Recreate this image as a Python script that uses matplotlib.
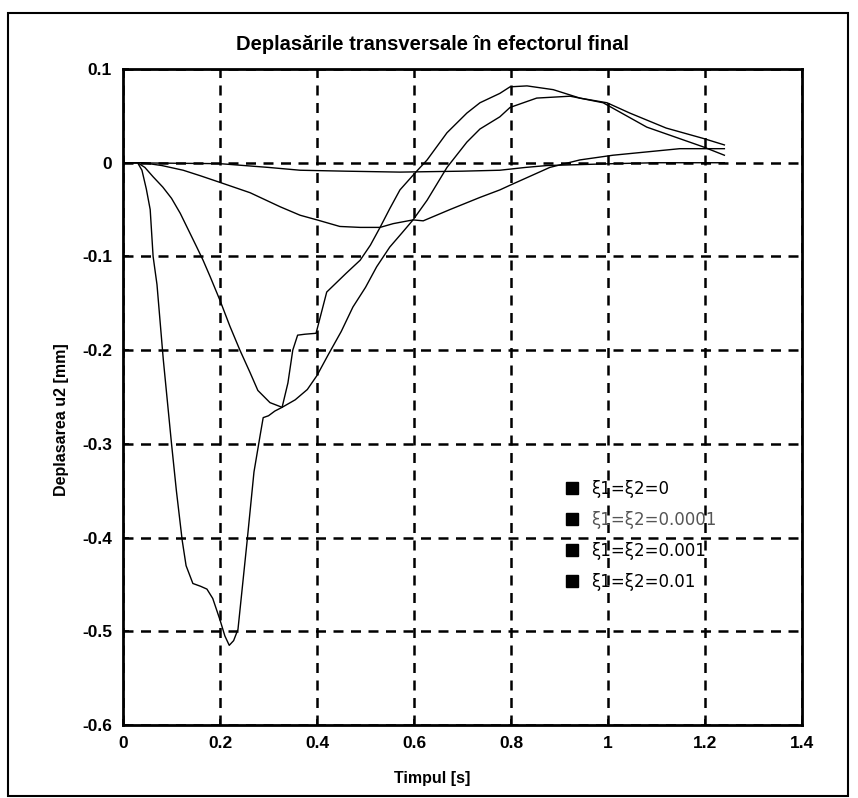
import numpy as np
import matplotlib
matplotlib.use('Agg')
import matplotlib.pyplot as plt
from matplotlib.lines import Line2D
from matplotlib.patches import Rectangle

plt.rcParams['font.family'] = ['Liberation Sans', 'DejaVu Sans']

# Data: time [s] and displacement [mm]
t_a = [0, 0.03, 0.039, 0.048, 0.056, 0.062, 0.07, 0.083, 0.1, 0.11, 0.122, 0.13,
       0.144, 0.16, 0.173, 0.185, 0.2, 0.21, 0.219, 0.228, 0.237, 0.256, 0.27,
       0.283, 0.289, 0.3, 0.313, 0.328, 0.34, 0.35, 0.36, 0.375, 0.398, 0.41,
       0.42, 0.44, 0.46, 0.489, 0.51, 0.53, 0.55, 0.571, 0.602, 0.627, 0.668,
       0.709, 0.736, 0.777, 0.798, 0.833, 0.887, 0.942, 0.998, 1.045, 1.12,
       1.196, 1.24]
u_a = [0, 0, -0.008, -0.028, -0.05, -0.1, -0.13, -0.21, -0.3, -0.35, -0.403,
       -0.43, -0.449, -0.452, -0.455, -0.465, -0.488, -0.505, -0.515, -0.51,
       -0.498, -0.403, -0.33, -0.29, -0.272, -0.27, -0.265, -0.261, -0.235,
       -0.2, -0.184, -0.183, -0.182, -0.158, -0.138, -0.128, -0.118, -0.104,
       -0.088, -0.069, -0.049, -0.029, -0.011, 0.003, 0.032, 0.053, 0.064,
       0.074, 0.081, 0.082, 0.078, 0.069, 0.064, 0.053, 0.037, 0.026, 0.019]

t_b = [0, 0.03, 0.045, 0.062, 0.082, 0.1, 0.118, 0.135, 0.152, 0.165, 0.18,
       0.2, 0.22, 0.241, 0.262, 0.278, 0.303, 0.328, 0.355, 0.38, 0.4, 0.423,
       0.45, 0.474, 0.5, 0.523, 0.55, 0.575, 0.598, 0.627, 0.668, 0.709, 0.736,
       0.777, 0.798, 0.853, 0.922, 0.99, 1.08, 1.196, 1.24]
u_b = [0, 0, -0.005, -0.015, -0.026, -0.038, -0.054, -0.072, -0.09, -0.104,
       -0.122, -0.147, -0.174, -0.2, -0.224, -0.243, -0.256, -0.261, -0.253,
       -0.242, -0.227, -0.205, -0.18, -0.154, -0.133, -0.111, -0.09, -0.075,
       -0.061, -0.04, -0.005, 0.022, 0.036, 0.049, 0.059, 0.069, 0.071, 0.064,
       0.038, 0.017, 0.008]

t_c = [0, 0.04, 0.08, 0.124, 0.16, 0.2, 0.262, 0.324, 0.365, 0.4, 0.447,
       0.489, 0.53, 0.557, 0.598, 0.619, 0.674, 0.736, 0.777, 0.798, 0.88,
       0.942, 1.01, 1.148, 1.24]
u_c = [0, 0, -0.003, -0.008, -0.014, -0.021, -0.032, -0.047, -0.056, -0.061,
       -0.068, -0.069, -0.069, -0.065, -0.061, -0.062, -0.05, -0.037, -0.029,
       -0.024, -0.005, 0.003, 0.008, 0.015, 0.015]

t_d = [0, 0.2, 0.3, 0.365, 0.458, 0.571, 0.7, 0.777, 0.83, 0.874, 0.942,
       1.01, 1.1, 1.24]
u_d = [0, -0.001, -0.005, -0.008, -0.009, -0.01, -0.009, -0.008, -0.005,
       -0.003, -0.002, -0.001, 0, 0]

labels = ['\u03be1=\u03be2=0', '\u03be1=\u03be2=0.0001',
          '\u03be1=\u03be2=0.001', '\u03be1=\u03be2=0.01']
label_colors = ['black', '#555555', 'black', 'black']

x_ticks = [0, 0.2, 0.4, 0.6, 0.8, 1, 1.2, 1.4]
x_ticklabels = ['0', '0.2', '0.4', '0.6', '0.8', '1', '1.2', '1.4']
y_ticks = [0.1, 0, -0.1, -0.2, -0.3, -0.4, -0.5, -0.6]
y_ticklabels = ['0.1', '0', '-0.1', '-0.2', '-0.3', '-0.4', '-0.5', '-0.6']


def main():
    fig = plt.figure(figsize=(8.58, 7.98), dpi=100)
    ax = fig.add_axes([0.1434, 0.0915, 0.7913, 0.822])

    for t, u in [(t_a, u_a), (t_b, u_b), (t_c, u_c), (t_d, u_d)]:
        ax.plot(t, u, color='black', lw=1.0)

    ax.set_xlim(0, 1.4)
    ax.set_ylim(-0.6, 0.1)
    ax.set_xticks(x_ticks)
    ax.set_xticklabels(x_ticklabels)
    ax.set_yticks(y_ticks)
    ax.set_yticklabels(y_ticklabels)
    ax.tick_params(direction='in', length=4, width=1.2, labelsize=12.5, pad=8)
    for lab in ax.get_xticklabels() + ax.get_yticklabels():
        lab.set_fontweight('bold')
    for s in ax.spines.values():
        s.set_linewidth(2.0)

    ax.grid(True, color='black', linestyle=(0, (4, 3)), lw=1.8)
    ax.set_axisbelow(True)

    ax.set_title('Deplas\u0103rile transversale \u00een efectorul final',
                 fontsize=14.5, fontweight='bold', x=0.455, pad=14)
    ax.set_xlabel('Timpul [s]', fontsize=11.5, fontweight='bold')
    ax.xaxis.set_label_coords(0.455, -0.07)
    ax.set_ylabel('Deplasarea u2 [mm]', fontsize=11.5, fontweight='bold')
    ax.yaxis.set_label_coords(-0.08, 0.465)

    handles = [Line2D([], [], ls='none', marker='s', color='black',
                      markersize=9) for _ in labels]
    leg = ax.legend(handles, labels, loc='upper left',
                    bbox_to_anchor=(0.625, 0.396), frameon=False,
                    prop={'family': 'DejaVu Sans', 'size': 12},
                    labelspacing=0.78, handletextpad=0.5,
                    handlelength=1.2)
    for txt, c in zip(leg.get_texts(), label_colors):
        txt.set_color(c)

    fig.patches.append(Rectangle((0.009, 0.002), 0.979, 0.982, fill=False,
                                 lw=1.5, edgecolor='black',
                                 transform=fig.transFigure))

    fig.savefig('out.png', dpi=100)


if __name__ == '__main__':
    main()
